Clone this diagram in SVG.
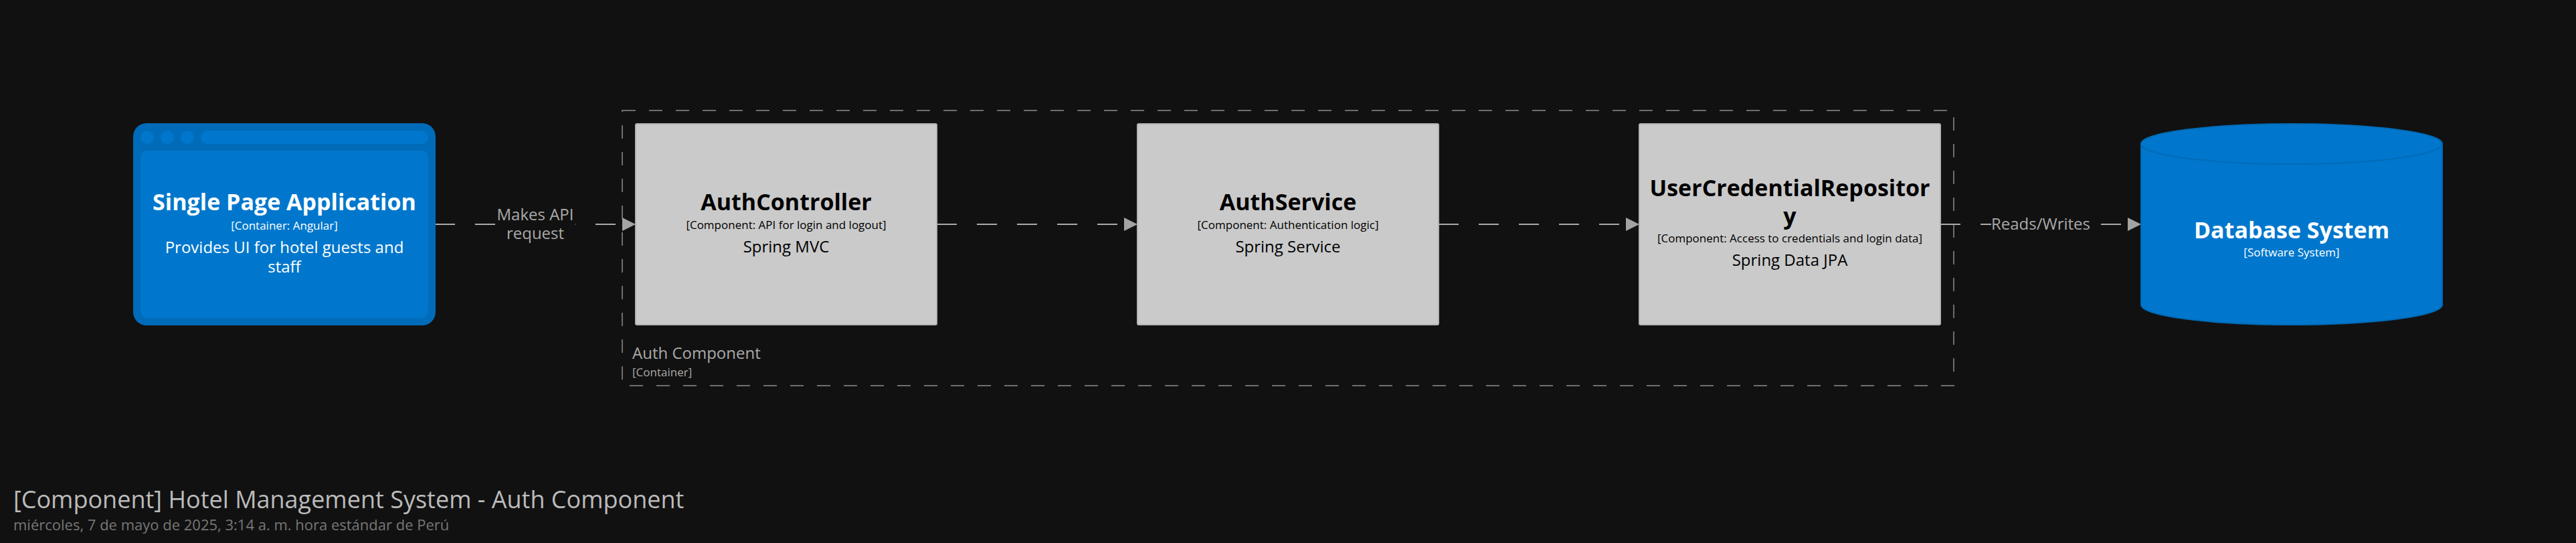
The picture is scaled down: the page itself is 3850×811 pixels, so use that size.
<svg xmlns="http://www.w3.org/2000/svg" width="3850" height="811" viewBox="0 0 3850 811">
<style>
text{font-family:"Open Sans","Noto Sans","Liberation Sans",sans-serif;text-anchor:middle}
.name{font-size:34px;font-weight:700}
.meta{font-size:17px}
.desc{font-size:24px}
.w{fill:#ffffff}
.k{fill:#000000}
.comp{fill:#cacaca;stroke:#b3b3b3;stroke-width:2}
.edge{fill:none;stroke:#aaaaaa;stroke-width:2;stroke-dasharray:30 30;marker-end:url(#arrow)}
.lab{font-size:24px;fill:#aaaaaa}
.dark{fill:#006bb8}
.blue{fill:#0077cc}
</style>
<defs>
<marker id="arrow" markerUnits="userSpaceOnUse" viewBox="0 0 20 20" refX="20" refY="10" markerWidth="20" markerHeight="20" orient="auto"><path d="M0 0L20 10L0 20Z" fill="#a3a3a3"/></marker>
</defs>
<rect id="background" width="3850" height="811" fill="#111111"/>
<g id="boundary-auth-component">
<rect x="930" y="165" width="1990" height="411" fill="none" stroke="#6e6e6e" stroke-width="2" stroke-dasharray="20 20"/>
<text x="945" y="536" font-size="24" fill="#aaaaaa" style="text-anchor:start">Auth Component</text>
<text x="945" y="562" font-size="17" fill="#aaaaaa" style="text-anchor:start">[Container]</text>
</g>
<g id="connectors">
<path class="edge" d="M650 335H950"/>
<rect x="741" y="312" width="118.500" height="56" fill="#111111"/>
<text class="lab" x="800" y="329">Makes API</text>
<text class="lab" x="800" y="357">request</text>
<path class="edge" d="M1400 335H1700"/>
<path class="edge" d="M2150 335H2450"/>
<path class="edge" d="M2900 335H3200"/>
<rect x="2976" y="320" width="148" height="30" fill="#111111"/>
<text class="lab" x="3050" y="343">Reads/Writes</text>
</g>
<g id="node-spa">
<rect class="dark" x="199" y="184" width="452" height="302" rx="20"/>
<rect class="blue" x="210" y="225" width="430" height="250" rx="10"/>
<circle class="blue" cx="220" cy="205" r="10"/>
<circle class="blue" cx="250" cy="205" r="10"/>
<circle class="blue" cx="280" cy="205" r="10"/>
<rect class="blue" x="300" y="195" width="340" height="20" rx="10"/>
<text class="name w" x="425" y="314">Single Page Application</text>
<text class="meta w" x="425" y="343">[Container: Angular]</text>
<text class="desc w" x="425" y="378">Provides UI for hotel guests and</text>
<text class="desc w" x="425" y="407">staff</text>
</g>
<g id="node-authcontroller">
<rect class="comp" x="950" y="185" width="450" height="300" rx="2"/>
<text class="name k" x="1175" y="314">AuthController</text>
<text class="meta k" x="1175" y="342">[Component: API for login and logout]</text>
<text class="desc k" x="1175" y="377">Spring MVC</text>
</g>
<g id="node-authservice">
<rect class="comp" x="1700" y="185" width="450" height="300" rx="2"/>
<text class="name k" x="1925" y="314">AuthService</text>
<text class="meta k" x="1925" y="342">[Component: Authentication logic]</text>
<text class="desc k" x="1925" y="377">Spring Service</text>
</g>
<g id="node-usercredentialrepository">
<rect class="comp" x="2450" y="185" width="450" height="300" rx="2"/>
<text class="name k" x="2675" y="293">UserCredentialRepositor</text>
<text class="name k" x="2675" y="335">y</text>
<text class="meta k" x="2675" y="362">[Component: Access to credentials and login data]</text>
<text class="desc k" x="2675" y="397">Spring Data JPA</text>
</g>
<g id="node-database">
<path d="M3200 215A225 30 0 0 1 3650 215V455A225 30 0 0 1 3200 455Z" fill="#0077cc" stroke="#006bb8" stroke-width="2"/>
<path d="M3200 215A225 30 0 0 0 3650 215" fill="none" stroke="#006bb8" stroke-width="2"/>
<text class="name w" x="3425" y="356">Database System</text>
<text class="meta w" x="3425" y="383">[Software System]</text>
</g>
<g id="title">
<text x="20" y="759" font-size="36" fill="#bbbbbb" style="text-anchor:start">[Component] Hotel Management System - Auth Component</text>
<text x="20" y="792" font-size="22" fill="#777777" style="text-anchor:start">miércoles, 7 de mayo de 2025, 3:14 a. m. hora estándar de Perú</text>
</g>
</svg>
